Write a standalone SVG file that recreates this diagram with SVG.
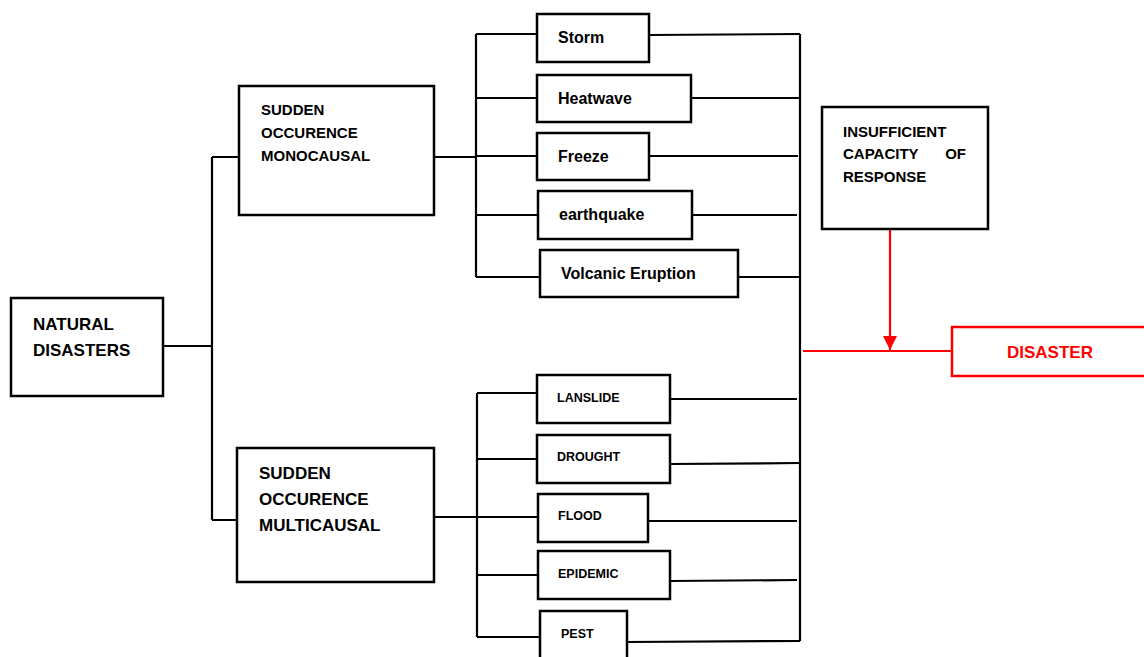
<svg xmlns="http://www.w3.org/2000/svg" width="1144" height="657" viewBox="0 0 1144 657">
<style>
.box{fill:#fff;stroke:#000;stroke-width:2.5}
.rbox{fill:#fff;stroke:#f00;stroke-width:2.5}
.ln{fill:none;stroke:#000;stroke-width:2.2}
.rln{fill:none;stroke:#f00;stroke-width:2.2}
text{font-family:"Liberation Sans",Arial,sans-serif;font-weight:bold;fill:#000}
.t17{font-size:17px}
.t16{font-size:16px}
.t15{font-size:15px}
.t12{font-size:12.5px}
.red{fill:#f00}
</style>
<defs>
<marker id="arr" markerWidth="16" markerHeight="14" refX="16" refY="8" orient="auto" markerUnits="userSpaceOnUse" viewBox="0 0 16 16">
<path d="M0,0 L16,8 L0,16 Z" fill="#f00"/>
</marker>
</defs>
<rect width="1144" height="657" fill="#fff"/>
<g id="connectors">
<path class="ln" d="M163,346 H212 M212,157 V520 M212,157 H239 M212,520 H237"/>
<path class="ln" d="M434,157 H476 M476,34 V277 M476,34 H537 M476,98 H537 M476,156 H537 M476,215 H538 M476,277 H540"/>
<path class="ln" d="M649,35 L800,34 M691,98 H800 M649,156 H798 M692,215 H797 M738,277 H800"/>
<path class="ln" d="M800,34 V641"/>
<path class="ln" d="M434,517 H477 M477,393 V637 M477,393 H539 M477,459 H539 M477,517 H540 M477,575 H540 M477,637 H542"/>
<path class="ln" d="M670,399 H797 M670,464 L800,463 M648,521 H797 M670,581 L797,580 M627,642 L800,641"/>
<path class="rln" d="M803,351 H952"/>
<path class="rln" d="M890,229 V350" marker-end="url(#arr)"/>
</g>
<g id="natural-disasters">
<rect class="box" x="11" y="298" width="152" height="98"/>
<text class="t17" x="33" y="330">NATURAL</text>
<text class="t17" x="33" y="356">DISASTERS</text>
</g>
<g id="monocausal">
<rect class="box" x="239" y="86" width="195" height="129"/>
<text class="t15" x="261" y="115">SUDDEN</text>
<text class="t15" x="261" y="138">OCCURENCE</text>
<text class="t15" x="261" y="161">MONOCAUSAL</text>
</g>
<g id="multicausal">
<rect class="box" x="237" y="448" width="197" height="134"/>
<text class="t17" x="259" y="479">SUDDEN</text>
<text class="t17" x="259" y="505">OCCURENCE</text>
<text class="t17" x="259" y="531">MULTICAUSAL</text>
</g>
<g id="storm">
<rect class="box" x="537" y="14" width="112" height="48"/>
<text class="t16" x="558" y="43">Storm</text>
</g>
<g id="heatwave">
<rect class="box" x="537" y="75" width="154" height="47"/>
<text class="t16" x="558" y="104">Heatwave</text>
</g>
<g id="freeze">
<rect class="box" x="537" y="133" width="112" height="47"/>
<text class="t16" x="558" y="162">Freeze</text>
</g>
<g id="earthquake">
<rect class="box" x="538" y="191" width="154" height="48"/>
<text class="t16" x="559" y="220">earthquake</text>
</g>
<g id="volcanic">
<rect class="box" x="540" y="250" width="198" height="47"/>
<text class="t16" x="561" y="279">Volcanic Eruption</text>
</g>
<g id="lanslide">
<rect class="box" x="537" y="375" width="133" height="48"/>
<text class="t12" x="557" y="402">LANSLIDE</text>
</g>
<g id="drought">
<rect class="box" x="537" y="435" width="133" height="48"/>
<text class="t12" x="557" y="461">DROUGHT</text>
</g>
<g id="flood">
<rect class="box" x="538" y="494" width="110" height="48"/>
<text class="t12" x="558" y="520">FLOOD</text>
</g>
<g id="epidemic">
<rect class="box" x="538" y="551" width="132" height="48"/>
<text class="t12" x="558" y="578">EPIDEMIC</text>
</g>
<g id="pest">
<rect class="box" x="540" y="611" width="87" height="60"/>
<text class="t12" x="561" y="638">PEST</text>
</g>
<g id="insufficient">
<rect class="box" x="822" y="107" width="166" height="122"/>
<text class="t15" x="843" y="137">INSUFFICIENT</text>
<text class="t15" x="843" y="159">CAPACITY</text>
<text class="t15" x="966" y="159" text-anchor="end">OF</text>
<text class="t15" x="843" y="182">RESPONSE</text>
</g>
<g id="disaster">
<rect class="rbox" x="952" y="327" width="200" height="49"/>
<text class="t17 red" x="1007" y="358">DISASTER</text>
</g>
</svg>
